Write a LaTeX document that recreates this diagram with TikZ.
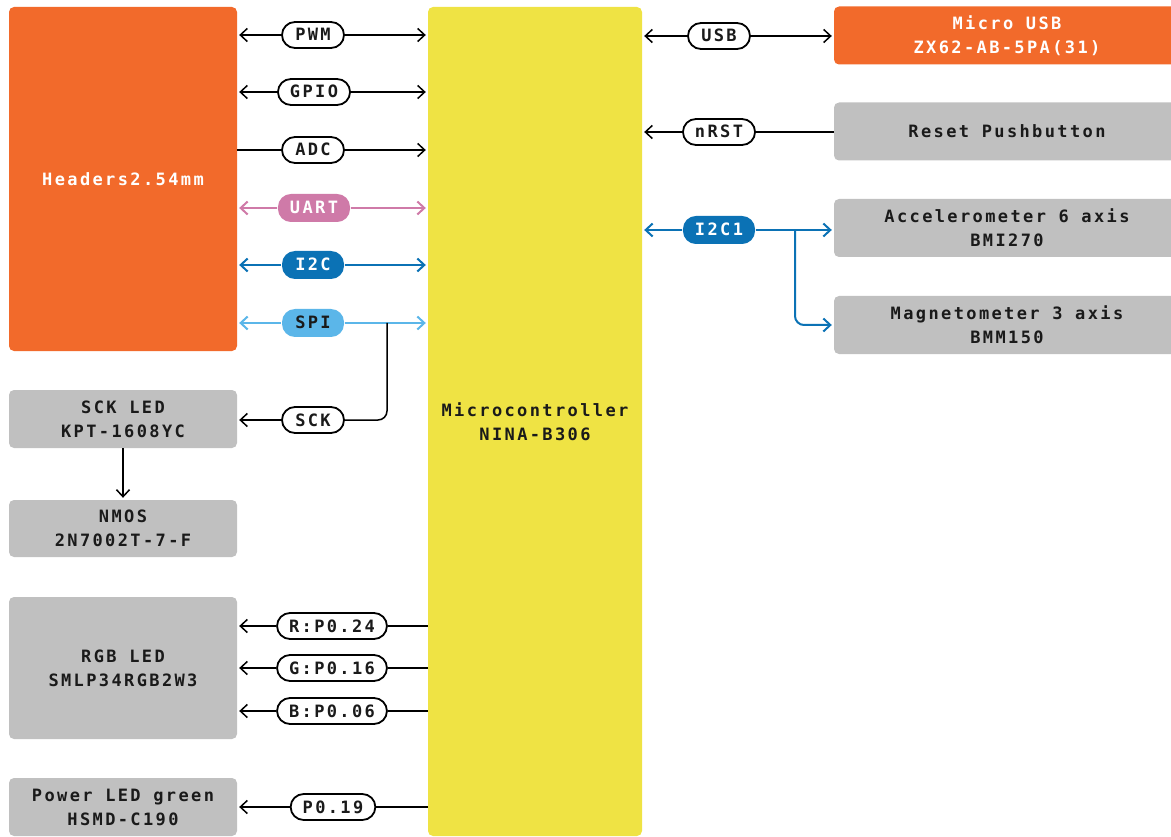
\documentclass[tikz,border=0pt]{standalone}
\usepackage{fontspec}
\newfontfamily\dmono{DejaVu Sans Mono}[LetterSpace=14]
\usetikzlibrary{arrows.meta}
\definecolor{corange}{HTML}{F26A2B}
\definecolor{cyellow}{HTML}{EFE344}
\definecolor{cgray}{HTML}{C0C0C0}
\definecolor{cpink}{HTML}{CF7AA8}
\definecolor{cdblue}{HTML}{0B72B5}
\definecolor{clblue}{HTML}{5BB6E9}
\definecolor{ctext}{HTML}{1A1A1A}
\tikzset{
  every node/.style={font=\dmono\bfseries\fontsize{17pt}{24pt}\selectfont, text=ctext},
  blk/.style={rounded corners=5pt, inner sep=0pt, align=center, minimum width=228pt},
  rblk/.style={rounded corners=5pt, inner sep=0pt, align=center, minimum width=346pt, minimum height=58pt},
  pill/.style={draw, line width=1.8pt, fill=white, rounded corners=13pt, minimum height=26pt,
    minimum width=62pt, inner xsep=12pt, inner ysep=0pt, text height=12pt, text depth=0pt},
  cpill/.style={pill, draw=none, minimum height=28pt},
  plain/.style={line width=1.5pt},
  lnk/.style={plain, -{Straight Barb[length=7pt,width=13pt]}, shorten >=2pt},
  clnk/.style={lnk, line width=2pt}
}
\begin{document}
\begin{tikzpicture}[x=1pt,y=-1pt]
\useasboundingbox (0,0) rectangle (1171,837);
% main blocks
\node[blk, fill=corange, minimum height=344pt, text=white] (hdr) at (123,179) {Headers2.54mm};
\node[blk, fill=cyellow, minimum width=214pt, minimum height=829pt] (mcu) at (535,421.5) {Microcontroller\\NINA-B306};
\node[blk, fill=cgray, minimum height=58pt] (sckled) at (123,419) {SCK LED\\KPT-1608YC};
\node[blk, fill=cgray, minimum height=57pt] (nmos) at (123,528.5) {NMOS\\2N7002T-7-F};
\node[blk, fill=cgray, minimum height=142pt] (rgb) at (123,668) {RGB LED\\SMLP34RGB2W3};
\node[blk, fill=cgray, minimum height=58pt] (pled) at (123,807) {Power LED green\\HSMD-C190};
% right blocks (run off the right edge)
\node[rblk, fill=corange, text=white] (usb) at (1007,35.5) {Micro USB\\ZX62-AB-5PA(31)};
\node[rblk, fill=cgray] (rst) at (1007,131.5) {Reset Pushbutton};
\node[rblk, fill=cgray] (acc) at (1007,228) {Accelerometer 6 axis\\BMI270};
\node[rblk, fill=cgray] (mag) at (1007,325) {Magnetometer 3 axis\\BMM150};
% pills left
\node[pill] (pwm) at (313,35) {PWM};
\node[pill] (gpio) at (314,92) {GPIO};
\node[pill] (adc) at (313,150) {ADC};
\node[cpill, fill=cpink, text=white] (uart) at (314,208) {UART};
\node[cpill, fill=cdblue, text=white] (i2c) at (313,265) {I2C};
\node[cpill, fill=clblue] (spi) at (313,323) {SPI};
\node[pill] (sck) at (313,420) {SCK};
\node[pill] (rp) at (332,626) {R:P0.24};
\node[pill] (gp) at (332,668) {G:P0.16};
\node[pill] (bp) at (332,711) {B:P0.06};
\node[pill] (pw) at (333,807) {P0.19};
% pills right
\node[pill] (usbl) at (719,36) {USB};
\node[pill] (nrst) at (719,132) {nRST};
\node[cpill, fill=cdblue, text=white] (i2c1) at (719,230) {I2C1};
\coordinate (spibr) at (387,323);
\coordinate (i2cbr) at (795,230);
% left connectors
\draw[lnk] (pwm) -- (hdr.east |- pwm);
\draw[lnk] (pwm) -- (mcu.west |- pwm);
\draw[lnk] (gpio) -- (hdr.east |- gpio);
\draw[lnk] (gpio) -- (mcu.west |- gpio);
\draw[plain] (adc) -- (hdr.east |- adc);
\draw[lnk] (adc) -- (mcu.west |- adc);
\draw[clnk, cpink] (uart) -- (hdr.east |- uart);
\draw[clnk, cpink] (uart) -- (mcu.west |- uart);
\draw[clnk, cdblue] (i2c) -- (hdr.east |- i2c);
\draw[clnk, cdblue] (i2c) -- (mcu.west |- i2c);
\draw[clnk, clblue] (spi) -- (hdr.east |- spi);
\draw[clnk, clblue] (spi) -- (mcu.west |- spi);
\draw[plain, rounded corners=9pt] (spibr) |- (sck);
\draw[lnk] (sck) -- (sckled.east |- sck);
\draw[lnk] (sckled) -- (nmos);
\draw[plain] (mcu.west |- rp) -- (rp);
\draw[lnk] (rp) -- (rgb.east |- rp);
\draw[plain] (mcu.west |- gp) -- (gp);
\draw[lnk] (gp) -- (rgb.east |- gp);
\draw[plain] (mcu.west |- bp) -- (bp);
\draw[lnk] (bp) -- (rgb.east |- bp);
\draw[plain] (mcu.west |- pw) -- (pw);
\draw[lnk] (pw) -- (pled.east |- pw);
% right connectors
\draw[lnk] (usbl) -- (mcu.east |- usbl);
\draw[lnk] (usbl) -- (usb.west |- usbl);
\draw[plain] (rst.west |- nrst) -- (nrst);
\draw[lnk] (nrst) -- (mcu.east |- nrst);
\draw[clnk, cdblue] (i2c1) -- (mcu.east |- i2c1);
\draw[clnk, cdblue] (i2c1) -- (acc.west |- i2c1);
\draw[clnk, cdblue, rounded corners=9pt] (i2cbr) |- (mag.west);
\end{tikzpicture}
\end{document}
